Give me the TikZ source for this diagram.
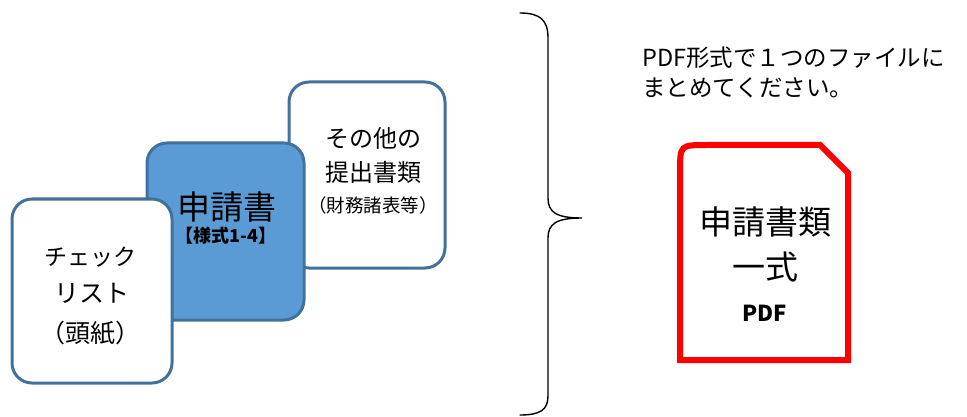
\documentclass[tikz,border=0pt]{standalone}
\usepackage{fontspec}
\setmainfont{Noto Sans CJK JP}
\definecolor{boxblue}{RGB}{65,113,156}
\definecolor{midfill}{RGB}{91,155,213}
\definecolor{docred}{RGB}{255,0,0}
\begin{document}
\begin{tikzpicture}[
    x=1pt, y=-1pt,
    card/.style={draw=boxblue,line width=3pt,rounded corners=20pt,fill=white,inner sep=0pt},
    bigtxt/.style={font=\fontsize{24}{30}\selectfont,align=center,inner sep=0pt},
    note/.style={font=\fontsize{18.5}{20}\selectfont,inner sep=0pt}
]
    \useasboundingbox (0,0) rectangle (967,417);
    % Documents to be submitted - stacked cards
    \begin{scope}
        \node[card,minimum width=156pt,minimum height=186pt] (other) at (367,175) {};
        \node[bigtxt] (otherA) at (373,138) {その他の};
        \node[bigtxt] (otherB) at (373,172) {提出書類};
        \node[note] (otherC) at (373,205) {（財務諸表等）};

        \node[card,fill=midfill,minimum width=157pt,minimum height=177pt] (appl) at (225.5,231.5) {};
        \node[bigtxt,font=\fontsize{33}{36}\selectfont] (applA) at (227,207) {申請書};
        \node[note,font=\fontsize{18}{20}\selectfont\bfseries] (applB) at (226,236) {【様式1-4】};

        \node[card,minimum width=160pt,minimum height=184pt] (check) at (92,291) {};
        \node[bigtxt,font=\fontsize{23}{30}\selectfont] (checkA) at (90,257) {チェック};
        \node[bigtxt,font=\fontsize{25}{30}\selectfont] (checkB) at (92,293) {リスト};
        \node[bigtxt,font=\fontsize{25}{30}\selectfont] (checkC) at (90,333) {（頭紙）};
    \end{scope}

    % Brace gathering them
    \draw[line width=1.4pt,line cap=round] (520,13) .. controls (540,13) and (548,20) .. (548,38)
        -- (548,198) .. controls (548,212) and (556,218) .. (582,218)
        .. controls (556,218) and (548,224) .. (548,238)
        -- (548,396) .. controls (548,410) and (540,415) .. (520,415);

    % Result - one PDF file
    \begin{scope}
        \node[bigtxt,font=\fontsize{23.5}{30}\selectfont,align=left,anchor=west] (msgA) at (642,58) {PDF形式で１つのファイルに};
        \node[bigtxt,font=\fontsize{23.5}{30}\selectfont,align=left,anchor=west] (msgB) at (642,88) {まとめてください。};
        \draw[docred,line width=6pt,fill=white,line join=miter]
            (680,360) -- (680,172) .. controls (680,145) .. (707,145)
            -- (820,145) -- (848,173) -- (848,360) -- cycle;
        \node[bigtxt,font=\fontsize{33}{36}\selectfont] (pdfA) at (765,222) {申請書類};
        \node[bigtxt,font=\fontsize{33}{36}\selectfont] (pdfB) at (765,267) {一式};
        \node[bigtxt,font=\fontsize{22}{26}\selectfont\bfseries] (pdfC) at (765,313) {PDF};
    \end{scope}
\end{tikzpicture}
\end{document}
